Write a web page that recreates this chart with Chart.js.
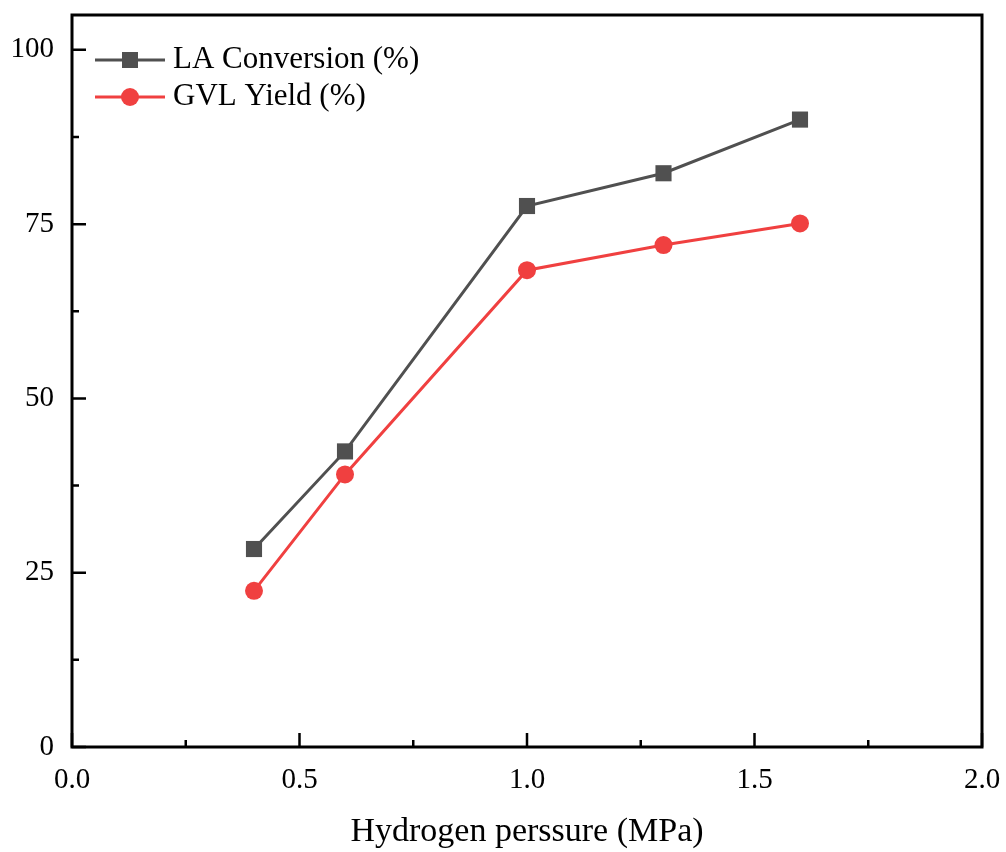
<!DOCTYPE html>
<html>
<head>
<meta charset="utf-8">
<script src="https://cdn.jsdelivr.net/npm/chart.js@4.4.1/dist/chart.umd.min.js"></script>
<style>
    html, body { margin: 0; padding: 0; background: #fff; }
    #wrap { width: 1006px; height: 852px; }
</style>
</head>
<body>
<div id="wrap"><canvas id="chart" width="1006" height="852"></canvas></div>
<script>
// data
const pressure = [0.4, 0.6, 1.0, 1.3, 1.6];
const laConversion = [28.4, 42.4, 77.6, 82.3, 90.0];
const gvlYield = [22.4, 39.1, 68.4, 72.0, 75.1];

const xTicks = [0, 0.5, 1.0, 1.5, 2.0];
const xMinor = [0.25, 0.75, 1.25, 1.75];
const yTicks = [0, 25, 50, 75, 100];
const yMinor = [12.5, 37.5, 62.5, 87.5];

const FONT = 'Liberation Serif, Times New Roman, serif';
const GREY = '#505050';
const RED = '#f04040';

// box frame + inward ticks
const frameTicks = {
    id: 'frameTicks',
    afterDraw(chart) {
        const { ctx, chartArea: a, scales: { x, y } } = chart;
        ctx.save();
        ctx.strokeStyle = '#000';
        ctx.lineWidth = 3;
        ctx.strokeRect(a.left, a.top, a.right - a.left, a.bottom - a.top);

        ctx.lineWidth = 2.5;
        ctx.beginPath();
        const tickX = (v, len) => {
            const px = x.getPixelForValue(v);
            ctx.moveTo(px, a.bottom);
            ctx.lineTo(px, a.bottom - len);
        };
        const tickY = (v, len) => {
            const py = y.getPixelForValue(v);
            ctx.moveTo(a.left, py);
            ctx.lineTo(a.left + len, py);
        };
        xTicks.forEach(v => tickX(v, 14));
        xMinor.forEach(v => tickX(v, 7));
        yTicks.forEach(v => tickY(v, 14));
        yMinor.forEach(v => tickY(v, 7));
        ctx.stroke();
        ctx.restore();
    }
};

// legend with line + marker, inside the plot
const lineLegend = {
    id: 'lineLegend',
    afterDraw(chart) {
        const ctx = chart.ctx;
        const rows = [60, 97];
        ctx.save();
        ctx.font = '31px ' + FONT;
        ctx.textBaseline = 'middle';
        chart.data.datasets.forEach((ds, i) => {
            const yy = rows[i];
            ctx.strokeStyle = ds.borderColor;
            ctx.lineWidth = 3;
            ctx.beginPath();
            ctx.moveTo(95, yy);
            ctx.lineTo(165, yy);
            ctx.stroke();
            ctx.fillStyle = ds.borderColor;
            if (ds.pointStyle === 'rect') {
                ctx.fillRect(130 - 8, yy - 8, 16, 16);
            } else {
                ctx.beginPath();
                ctx.arc(130, yy, 9, 0, Math.PI * 2);
                ctx.fill();
            }
            ctx.fillStyle = '#000';
            ctx.fillText(ds.label, 173, yy);
        });
        ctx.restore();
    }
};

// keep the plot box where the figure has it
const fixBox = (s, size) => {
    if (s.isHorizontal()) s.height = size; else s.width = size;
    s.paddingLeft = 0;
    s.paddingRight = 0;
    s.paddingTop = 0;
    s.paddingBottom = 0;
};

new Chart(document.getElementById('chart'), {
    type: 'line',
    data: {
        datasets: [
            {
                label: 'LA Conversion (%)',
                data: pressure.map((p, i) => ({ x: p, y: laConversion[i] })),
                borderColor: GREY,
                backgroundColor: GREY,
                pointBackgroundColor: GREY,
                pointBorderWidth: 0,
                pointStyle: 'rect',
                pointRadius: 11.4,
                borderWidth: 3
            },
            {
                label: 'GVL Yield (%)',
                data: pressure.map((p, i) => ({ x: p, y: gvlYield[i] })),
                borderColor: RED,
                backgroundColor: RED,
                pointBackgroundColor: RED,
                pointBorderWidth: 0,
                pointStyle: 'circle',
                pointRadius: 9,
                borderWidth: 3
            }
        ]
    },
    options: {
        responsive: false,
        animation: false,
        layout: { padding: { top: 15, right: 24, left: 0, bottom: 0 } },
        plugins: {
            legend: { display: false },
            tooltip: { enabled: false }
        },
        scales: {
            x: {
                type: 'linear',
                min: 0,
                max: 2,
                afterFit: s => fixBox(s, 105),
                afterBuildTicks: s => { s.ticks = xTicks.map(v => ({ value: v })); },
                grid: { display: false, drawTicks: false },
                border: { display: false },
                ticks: {
                    color: '#000',
                    padding: 16,
                    maxRotation: 0,
                    font: { family: FONT, size: 29 },
                    callback: v => Number(v).toFixed(1)
                },
                title: {
                    display: true,
                    text: 'Hydrogen perssure (MPa)',
                    color: '#000',
                    font: { family: FONT, size: 34 },
                    padding: { top: 0, bottom: 0 }
                }
            },
            y: {
                type: 'linear',
                min: 0,
                max: 105,
                afterFit: s => fixBox(s, 72),
                afterBuildTicks: s => { s.ticks = yTicks.map(v => ({ value: v })); },
                grid: { display: false, drawTicks: false },
                border: { display: false },
                ticks: {
                    color: '#000',
                    padding: 18,
                    font: { family: FONT, size: 29 }
                }
            }
        }
    },
    plugins: [frameTicks, lineLegend]
});
</script>
</body>
</html>
